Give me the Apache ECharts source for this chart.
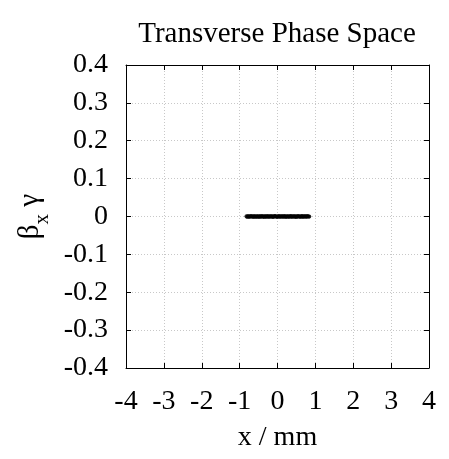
<!DOCTYPE html>
<html>
<head>
<meta charset="utf-8">
<script src="https://cdn.jsdelivr.net/npm/echarts@6/dist/echarts.min.js"></script>
<style>
  html, body { margin: 0; padding: 0; background: #fff; }
  #chart { width: 449px; height: 459px; }
</style>
</head>
<body>
<div id="chart"></div>
<script>
// particle positions: x in mm, beta_x*gamma
const xValues = [-0.82, -0.8, -0.78, -0.76, -0.74, -0.72, -0.7, -0.68, -0.66, -0.64,
  -0.62, -0.6, -0.58, -0.56, -0.54, -0.52, -0.5, -0.48, -0.46, -0.44,
  -0.42, -0.4, -0.38, -0.36, -0.34, -0.32, -0.3, -0.28, -0.26, -0.24,
  -0.22, -0.2, -0.18, -0.16, -0.14, -0.12, -0.1, -0.08, -0.06, -0.04,
  -0.02, 0, 0.02, 0.04, 0.06, 0.08, 0.1, 0.12, 0.14, 0.16,
  0.18, 0.2, 0.22, 0.24, 0.26, 0.28, 0.3, 0.32, 0.34, 0.36,
  0.38, 0.4, 0.42, 0.44, 0.46, 0.48, 0.5, 0.52, 0.54, 0.56,
  0.58, 0.6, 0.62, 0.64, 0.66, 0.68, 0.7, 0.72, 0.74, 0.76,
  0.78, 0.8, 0.82, 0.84];
const yValues = [0.0005, -0.001, 0.0012, 0, -0.0012, 0.001, 0.0005, -0.0005, 0.0012, -0.001,
  0, 0.001, -0.0012, 0.0005, -0.0005, 0.0012, -0.001, 0, 0.001, -0.0012,
  0.0005, 0.0012, -0.0005, -0.001, 0.001, 0, -0.0012, 0.0012, 0.0005, -0.001,
  0.001, -0.0005, 0, 0.0012, -0.0012, 0.0005, -0.001, 0.001, 0.0012, -0.0005,
  0, -0.0012, 0.001, 0.0005, -0.001, 0.0012, -0.0005, 0, 0.001, -0.0012,
  0.0005, 0.0012, -0.001, -0.0005, 0.001, 0, -0.0012, 0.0005, 0.0012, -0.001,
  0.001, -0.0005, 0, 0.0012, -0.0012, 0.0005, -0.001, 0.001, -0.0005, 0.0012,
  0, -0.001, 0.0005, 0.0012, -0.0012, 0.001, -0.0005, 0, 0.001, -0.001,
  0.0005, 0.001, -0.0005, 0];
const xTicks = [-4, 4, 1];
const yTicks = [-0.4, 0.4, 0.1];

const points = xValues.map((x, i) => [x, yValues[i]]);
const font = '"Liberation Serif", "DejaVu Serif", serif';

const axisCommon = {
  axisLine: { show: true, onZero: false, lineStyle: { color: '#000', width: 1 } },
  axisTick: { show: true, inside: true, length: 5, lineStyle: { color: '#000' } },
  splitLine: { show: true, lineStyle: { color: '#c8c8c8', type: [1, 2], width: 1 } }
};

const myChart = echarts.init(document.getElementById('chart'));
myChart.setOption({
  backgroundColor: '#fff',
  animation: false,
  title: {
    text: 'Transverse Phase Space',
    left: 272,
    textAlign: 'center',
    top: 15,
    textStyle: { fontFamily: font, fontSize: 29, fontWeight: 'normal', color: '#000' }
  },
  grid: { left: 126, right: 20, top: 65, bottom: 91 },
  xAxis: [
    Object.assign({
      type: 'value',
      min: xTicks[0],
      max: xTicks[1],
      interval: xTicks[2],
      name: 'x / mm',
      nameLocation: 'middle',
      nameGap: 56,
      nameTextStyle: { fontFamily: font, fontSize: 28, color: '#000' },
      axisLabel: { fontFamily: font, fontSize: 28, color: '#000', margin: 20 }
    }, axisCommon),
    Object.assign({
      type: 'value', position: 'top',
      min: xTicks[0], max: xTicks[1], interval: xTicks[2],
      axisLabel: { show: false }
    }, axisCommon, { splitLine: { show: false } })
  ],
  yAxis: [
    Object.assign({
      type: 'value',
      min: yTicks[0],
      max: yTicks[1],
      interval: yTicks[2],
      name: '{a|β}{s|x}{a| γ}',
      nameLocation: 'middle',
      nameGap: 60,
      nameRotate: 90,
      nameTextStyle: {
        color: '#000',
        rich: {
          a: { fontFamily: font, fontSize: 29, color: '#000', lineHeight: 30 },
          s: { fontFamily: font, fontSize: 21, color: '#000', verticalAlign: 'bottom', lineHeight: 30, padding: [0, 0, -7, 0] }
        }
      },
      axisLabel: {
        fontFamily: font, fontSize: 28, color: '#000', margin: 18,
        formatter: v => (Math.abs(v) < 1e-9 ? '0' : v.toFixed(1))
      }
    }, axisCommon),
    Object.assign({
      type: 'value', position: 'right',
      min: yTicks[0], max: yTicks[1], interval: yTicks[2],
      axisLabel: { show: false }
    }, axisCommon, { splitLine: { show: false } })
  ],
  series: [
    {
      type: 'scatter',
      data: points,
      symbolSize: 4,
      itemStyle: { color: '#000' }
    }
  ]
});
</script>
</body>
</html>
